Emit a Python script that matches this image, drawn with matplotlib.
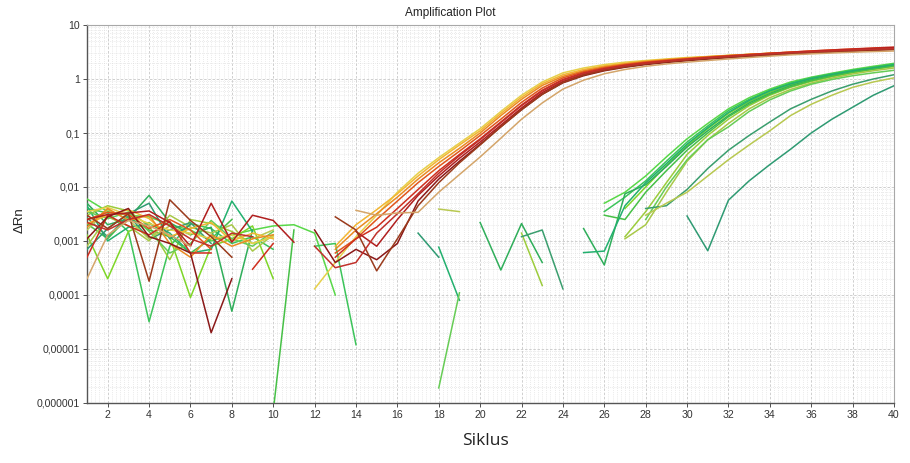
import numpy as np
import matplotlib
matplotlib.use("Agg")
import matplotlib.pyplot as plt
from matplotlib.ticker import MultipleLocator, LogLocator, FixedLocator, NullFormatter

N = np.nan

cycles = list(range(1, 41))

# ---- early wells (yellow / orange / red) ----
red_01 = [0.0035, 0.0042, 0.0030, 0.0021, 0.0016, 0.0014, 0.0011, 0.0013, 0.0009, 0.0012,
          N, 0.00013, 0.0004, 0.0012, 0.003, 0.008, 0.018, 0.035, 0.065, 0.12,
          0.25, 0.5, 0.88, 1.3, 1.6, 1.85, 2.05, 2.2, 2.35, 2.5,
          2.6, 2.75, 2.85, 3.0, 3.1, 3.2, 3.3, 3.4, 3.5, 3.6]
red_02 = [0.0021, 0.0030, 0.0038, 0.0026, 0.0012, 0.0017, 0.0022, 0.0010, 0.0014, 0.0011,
          N, N, 0.0008, 0.002, 0.0038, 0.0075, 0.016, 0.032, 0.06, 0.11,
          0.23, 0.46, 0.82, 1.2, 1.5, 1.75, 1.95, 2.15, 2.3, 2.45,
          2.6, 2.72, 2.85, 2.95, 3.05, 3.15, 3.25, 3.35, 3.45, 3.55]
red_03 = [0.0018, 0.0040, 0.0024, 0.0030, 0.0009, 0.0005, 0.0013, 0.0008, 0.0011, 0.0013,
          N, N, 0.0007, 0.0016, 0.0032, 0.0065, 0.014, 0.028, 0.052, 0.1,
          0.21, 0.42, 0.76, 1.12, 1.42, 1.68, 1.9, 2.1, 2.27, 2.42,
          2.57, 2.72, 2.86, 3.0, 3.12, 3.25, 3.37, 3.48, 3.58, 3.7]
red_04 = [0.0025, 0.0034, 0.0031, 0.0017, 0.0025, 0.0016, 0.0007, N, N, N,
          N, N, 0.0006, 0.0011, 0.0025, 0.0055, 0.012, 0.024, 0.046, 0.09,
          0.18, 0.37, 0.68, 1.05, 1.36, 1.62, 1.85, 2.05, 2.22, 2.38,
          2.54, 2.7, 2.85, 3.0, 3.15, 3.3, 3.45, 3.58, 3.7, 3.8]
red_05 = [0.0005, 0.0030, 0.0019, 0.0013, 0.0023, 0.0006, 0.0006, N, 0.0003, 0.0009,
          N, N, 0.0005, 0.0011, 0.0018, 0.004, 0.009, 0.02, 0.04, 0.078,
          0.16, 0.33, 0.62, 0.98, 1.3, 1.56, 1.8, 2.0, 2.17, 2.33,
          2.5, 2.66, 2.82, 2.98, 3.14, 3.3, 3.45, 3.6, 3.75, 3.9]
red_06 = [0.0025, 0.0031, 0.0033, 0.0036, 0.0022, 0.0008, 0.0050, 0.00095, 0.0030, 0.0024,
          0.00095, N, N, 0.0015, 0.0008, 0.0025, 0.007, 0.016, 0.034, 0.068,
          0.14, 0.29, 0.56, 0.9, 1.22, 1.5, 1.73, 1.93, 2.1, 2.26,
          2.42, 2.58, 2.74, 2.9, 3.05, 3.2, 3.35, 3.5, 3.65, 3.8]
red_07 = [0.0011, 0.0028, 0.0040, 0.0012, 0.0009, 0.0006, 0.00002, 0.0002, N, N,
          N, 0.0016, 0.0004, 0.0007, 0.00045, 0.0009, 0.0055, 0.014, 0.03, 0.062,
          0.13, 0.27, 0.52, 0.85, 1.15, 1.42, 1.65, 1.85, 2.02, 2.18,
          2.33, 2.48, 2.62, 2.76, 2.9, 3.02, 3.14, 3.26, 3.38, 3.5]
red_08 = [0.0030, 0.0017, 0.0032, 0.00018, 0.0058, 0.0024, 0.0012, 0.0005, N, N,
          N, N, 0.0028, 0.0016, 0.00028, 0.0011, 0.0045, 0.012, 0.028, 0.06,
          0.13, 0.27, 0.52, 0.86, 1.18, 1.45, 1.68, 1.9, 2.08, 2.24,
          2.4, 2.55, 2.7, 2.85, 3.0, 3.12, 3.25, 3.37, 3.5, 3.6]
red_09 = [0.0022, 0.0016, 0.0025, 0.0031, 0.0019, 0.0011, 0.0008, 0.0014, 0.0012, N,
          N, 0.0008, 0.00032, 0.0004, 0.0014, 0.0032, 0.0075, 0.018, 0.038, 0.075,
          0.155, 0.32, 0.6, 0.95, 1.27, 1.53, 1.76, 1.96, 2.13, 2.3,
          2.46, 2.62, 2.78, 2.93, 3.07, 3.2, 3.33, 3.45, 3.56, 3.65]
red_10 = [0.0002, 0.0013, 0.0024, 0.0019, 0.0013, 0.0008, N, N, N, N,
          N, N, N, 0.0037, 0.003, 0.0033, 0.0034, 0.008, 0.017, 0.036,
          0.08, 0.18, 0.36, 0.65, 0.95, 1.25, 1.5, 1.72, 1.9, 2.05,
          2.2, 2.35, 2.5, 2.65, 2.8, 2.92, 3.03, 3.13, 3.22, 3.3]

# ---- late wells (green) ----
grn_01 = [0.0060, 0.0035, 0.0030, 0.0028, 0.0020, 0.0016, 0.0010, 0.0013, 0.0016, 0.0019,
          0.0020, 0.0014, 0.0001, N, N, N, N, N, N, N,
          N, N, N, N, N, 0.005, 0.008, 0.016, 0.036, 0.078,
          0.15, 0.28, 0.45, 0.65, 0.88, 1.08, 1.28, 1.5, 1.72, 1.95]
grn_02 = [0.0040, 0.0033, 0.0015, 0.000032, 0.0008, 0.0021, 0.0017, 0.0009, 0.0012, 0.0007,
          N, 0.0008, 0.0009, 0.000012, N, N, N, N, N, N,
          N, N, N, N, N, 0.0035, 0.0065, 0.013, 0.03, 0.068,
          0.135, 0.26, 0.42, 0.62, 0.84, 1.05, 1.25, 1.45, 1.65, 1.9]
grn_03 = [0.0013, 0.0002, 0.0015, 0.0022, 0.0012, 0.00009, 0.0008, 0.0011, 0.0019, 0.0002,
          N, N, N, N, N, N, N, N, N, N,
          N, N, N, N, N, N, 0.004, 0.01, 0.025, 0.058,
          0.12, 0.23, 0.38, 0.57, 0.78, 1.0, 1.2, 1.4, 1.6, 1.85]
grn_04 = [0.0050, 0.0020, 0.0026, 0.0070, 0.0022, 0.0013, 0.0018, 0.00005, 0.0016, N,
          N, N, N, N, N, N, N, N, N, 0.0022,
          0.00029, 0.0021, 0.0004, N, 0.0017, 0.00036, 0.0075, 0.011, 0.024, 0.055,
          0.11, 0.21, 0.36, 0.54, 0.75, 0.96, 1.16, 1.36, 1.56, 1.8]
grn_05 = [0.0030, 0.0045, 0.0036, 0.0019, 0.00045, 0.0025, 0.0021, 0.0015, 0.0009, 0.0012,
          N, N, N, N, N, N, N, N, N, N,
          N, 0.0014, 0.00015, N, N, N, 0.0012, 0.0035, 0.012, 0.04,
          0.09, 0.18, 0.32, 0.5, 0.7, 0.9, 1.1, 1.3, 1.5, 1.7]
grn_06 = [0.0021, 0.0011, 0.0028, 0.0016, 0.0012, 0.0006, 0.0011, 0.0025, N, 0.0000007,
          0.0016, N, N, N, N, N, N, N, N, N,
          N, N, N, N, N, 0.003, 0.0025, 0.008, 0.02, 0.048,
          0.1, 0.2, 0.34, 0.52, 0.72, 0.93, 1.13, 1.33, 1.52, 1.75]
grn_07 = [0.0008, 0.0028, 0.0019, 0.0010, 0.0030, 0.0018, 0.0014, 0.0020, 0.00065, 0.0013,
          N, N, N, N, N, N, N, N, N, N,
          N, N, N, N, N, N, 0.0011, 0.002, 0.008, 0.03,
          0.075, 0.15, 0.28, 0.45, 0.64, 0.84, 1.04, 1.24, 1.42, 1.6]
grn_08 = [0.0045, 0.0010, 0.0018, 0.0021, 0.0014, 0.0006, 0.0007, 0.0055, 0.0015, N,
          N, N, N, N, N, N, N, 0.00077, 0.00008, N,
          N, N, N, N, 0.00061, 0.00065, 0.0045, 0.012, 0.027, 0.062,
          0.125, 0.24, 0.4, 0.6, 0.81, 1.02, 1.22, 1.42, 1.62, 1.85]
grn_09 = [0.0035, 0.0026, 0.0034, 0.0015, 0.0006, 0.0009, 0.0024, 0.0011, 0.0008, 0.0015,
          N, N, N, N, N, N, N, 0.0000019, 0.00011, N,
          N, N, N, N, N, N, N, 0.0025, 0.01, 0.032,
          0.075, 0.13, 0.25, 0.41, 0.6, 0.8, 0.98, 1.15, 1.3, 1.45]
grn_10 = [0.0027, 0.0012, 0.0030, 0.0011, 0.0016, 0.0022, 0.0009, N, N, N,
          N, N, N, N, N, N, N, N, N, N,
          N, 0.0012, 0.0016, 0.00013, N, N, N, 0.004, 0.0045, 0.009,
          0.022, 0.048, 0.09, 0.16, 0.28, 0.42, 0.6, 0.8, 1.0, 1.2]
grn_11 = [0.0016, 0.0038, 0.0025, 0.0011, 0.0019, 0.0013, N, N, 0.0011, 0.0016,
          N, N, N, N, N, N, N, 0.0039, 0.0035, N,
          N, N, N, N, N, N, N, 0.003, 0.005, 0.008,
          0.016, 0.032, 0.06, 0.11, 0.21, 0.34, 0.5, 0.7, 0.88, 1.05]
grn_12 = [0.0007, 0.0017, 0.0032, 0.0050, 0.0011, 0.0020, N, N, N, N,
          N, N, N, N, N, N, 0.0014, 0.0005, N, N,
          N, N, N, N, N, N, N, N, N, 0.0029,
          0.00066, 0.0057, 0.013, 0.026, 0.05, 0.1, 0.18, 0.3, 0.5, 0.75]

red_wells = [red_01, red_02, red_03, red_04, red_05, red_06, red_07, red_08, red_09, red_10]
red_colors = ["#e6d04a", "#f2b632", "#ea8a22", "#e0561c", "#cf2e1e",
              "#b01e1e", "#8a1818", "#9a3a1c", "#c0302a", "#d4a56a"]

grn_wells = [grn_01, grn_02, grn_03, grn_04, grn_05, grn_06,
             grn_07, grn_08, grn_09, grn_10, grn_11, grn_12]
grn_colors = ["#58d848", "#3cc45a", "#7ed628", "#2fae5a", "#9ccc3c", "#46c046",
              "#a8c848", "#22b06e", "#66cc55", "#3a9e6e", "#b8c850", "#2e9a72"]

y_ticks = [1e-6, 1e-5, 1e-4, 1e-3, 1e-2, 1e-1, 1, 10]
y_tick_labels = ["0,000001", "0,00001", "0,0001", "0,001", "0,01", "0,1", "1", "10"]
x_ticks = list(range(2, 41, 2))


fig = plt.figure(figsize=(9.1, 4.63), dpi=100)
ax = fig.add_axes([0.0956, 0.1296, 0.8868, 0.8164])

for vals, col in zip(grn_wells, grn_colors):
    ax.plot(cycles, vals, color=col, lw=1.1, zorder=3)
for vals, col in zip(red_wells, red_colors):
    ax.plot(cycles, vals, color=col, lw=1.1, zorder=4)

ax.set_yscale("log")
ax.set_xlim(1, 40)
ax.set_ylim(1e-6, 10)

ax.yaxis.set_major_locator(FixedLocator(y_ticks))
ax.set_yticklabels(y_tick_labels)
ax.yaxis.set_minor_locator(LogLocator(base=10, subs=np.arange(2, 10)))
ax.yaxis.set_minor_formatter(NullFormatter())
ax.set_xticks(x_ticks)
ax.xaxis.set_minor_locator(MultipleLocator(0.2))

ax.grid(which="major", color="#c8c8c8", linestyle=(0, (3, 2)), lw=0.6)
ax.grid(which="minor", color="#d6d6d6", linestyle=(0, (1, 2)), lw=0.5)
ax.set_axisbelow(True)

ax.tick_params(which="major", labelsize=7.6, length=3, width=0.6, colors="#333333",
               pad=2)
ax.tick_params(which="minor", length=0)
for lbl in ax.get_xticklabels() + ax.get_yticklabels():
    lbl.set_fontfamily("Liberation Sans")

for side in ("left", "bottom"):
    ax.spines[side].set_color("#555555")
    ax.spines[side].set_linewidth(1.0)
for side in ("top", "right"):
    ax.spines[side].set_color("#a8a8a8")
    ax.spines[side].set_linewidth(0.8)

fig.text(0.495, 0.972, "Amplification Plot", fontsize=8.5, family="Liberation Sans",
         ha="center", va="center", color="#222222")
fig.text(0.022, 0.525, "\u0394Rn", rotation=90, fontsize=9.5, family="Liberation Sans",
         ha="center", va="center", color="#222222")
fig.text(0.533, 0.048, "Siklus", fontsize=12.5, family="Open Sans", ha="center",
         va="center", color="#222222")

fig.savefig("out.png", dpi=100)
